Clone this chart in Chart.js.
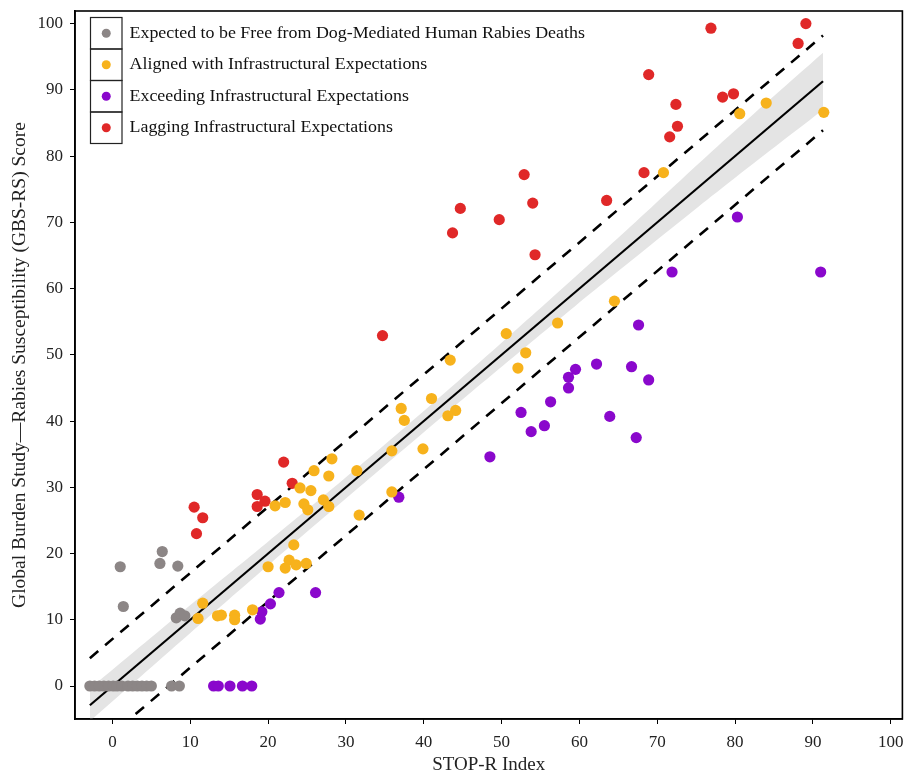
<!DOCTYPE html>
<html>
<head>
<meta charset="utf-8">
<script src="https://cdn.jsdelivr.net/npm/chart.js@4.4.1/dist/chart.umd.min.js"></script>
<style>
  html, body { margin: 0; padding: 0; background: #ffffff; }
  #wrap { width: 908px; height: 776px; }
</style>
</head>
<body>
<div id="wrap"><canvas id="c" width="908" height="776"></canvas></div>
<script>
// ---------------- DATA ----------------
const seriesNames = [
  "Expected to be Free from Dog-Mediated Human Rabies Deaths",
  "Aligned with Infrastructural Expectations",
  "Exceeding Infrastructural Expectations",
  "Lagging Infrastructural Expectations"
];

// Expected to be free (grey)
const freeX = [-2.9, -2.3, -1.7, -1.1, -0.5, 0.1, 0.6, 1.2, 2.0, 2.6, 3.2, 3.8, 4.4, 5.0, 7.6, 8.6,
               1.0, 1.4, 6.4, 6.1, 8.4, 8.2, 8.7, 9.3];
const freeY = [0, 0, 0, 0, 0, 0, 0, 0, 0, 0, 0, 0, 0, 0, 0, 0,
               18.0, 12.0, 20.3, 18.5, 18.1, 10.3, 11.0, 10.6];

// Aligned (yellow)
const alignedX = [11.6, 11.0, 14.0, 13.5, 15.7, 15.7, 18.0, 20.0, 23.3, 22.7, 22.2, 23.6, 24.9, 31.7,
                  37.1, 37.5, 39.9, 35.9, 28.2, 25.9, 27.8, 31.4, 24.1, 25.5, 22.2, 20.9, 24.6, 25.1,
                  27.1, 27.8, 35.9, 64.5, 57.2, 50.6, 53.1, 52.1, 43.4, 41.0, 44.1, 43.1, 70.8,
                  80.6, 84.0, 91.4];
const alignedY = [12.5, 10.2, 10.7, 10.6, 10.7, 10.0, 11.5, 18.0, 21.3, 19.0, 17.8, 18.3, 18.5, 25.8,
                  41.9, 40.1, 35.8, 35.5, 34.3, 32.5, 31.7, 32.5, 29.9, 29.5, 27.7, 27.2, 27.5, 26.6,
                  28.1, 27.1, 29.3, 58.1, 54.8, 53.2, 50.3, 48.0, 49.2, 43.4, 41.6, 40.8, 77.5,
                  86.4, 88.0, 86.6];

// Exceeding (purple)
const exceedX = [13.0, 13.6, 15.1, 16.7, 17.9, 19.0, 19.2, 20.3, 21.4, 26.1, 36.8,
                 48.5, 52.5, 53.8, 55.5, 56.3, 58.6, 58.6, 59.5, 62.2, 63.9, 66.7, 67.6, 68.9, 67.3,
                 80.3, 71.9, 91.0];
const exceedY = [0, 0, 0, 0, 0, 10.1, 11.2, 12.4, 14.1, 14.1, 28.5,
                 34.6, 41.3, 38.4, 39.3, 42.9, 45.0, 46.6, 47.8, 48.6, 40.7, 48.2, 54.5, 46.2, 37.5,
                 70.8, 62.5, 62.5];

// Lagging (red)
const laggingX = [10.8, 11.6, 10.5, 22.0, 23.1, 18.6, 19.6, 18.6, 34.7, 43.7, 44.7, 49.7, 52.9, 54.0,
                  54.3, 63.5, 68.3, 76.9, 89.1, 88.1, 68.9, 78.4, 79.8, 72.4, 72.6, 71.6];
const laggingY = [23.0, 25.4, 27.0, 33.8, 30.6, 28.9, 27.9, 27.1, 52.9, 68.4, 72.1, 70.4, 77.2, 72.9,
                  65.1, 73.3, 77.5, 99.3, 100.0, 97.0, 92.3, 88.9, 89.4, 87.8, 84.5, 82.9];

// Fitted line, prediction limits (dashed) and confidence band
const fitX = [-2.9, 91.3];
const fitY = [-2.9, 91.3];
const predUpperY = [4.2, 98.2];
const predLowerY = [-10.1, 83.9];
const bandX = [-2.9, 9.9, 19.8, 29.7, 39.6, 49.5, 59.4, 69.2, 79.1, 91.3];
const bandLow = [-5.3, 7.9, 18.0, 28.0, 37.9, 47.7, 57.3, 66.6, 75.9, 87.0];
const bandHigh = [-0.4, 12.1, 21.6, 31.2, 41.1, 51.3, 61.7, 72.2, 82.9, 95.6];

// Axis ticks
const xTicks = [0, 10, 20, 30, 40, 50, 60, 70, 80, 90, 100];
const yTicks = [0, 10, 20, 30, 40, 50, 60, 70, 80, 90, 100];

const colors = ["#8c8686", "#f7b21c", "#8a08cc", "#e02828"];

// ---------------- BUILD ----------------
const zip = (xs, ys) => xs.map((x, i) => ({ x: x, y: ys[i] }));
const FONT = "'Liberation Serif', 'Times New Roman', serif";

function scatterSet(name, xs, ys, col) {
  return {
    type: 'scatter', label: name, data: zip(xs, ys),
    backgroundColor: col, borderColor: col, borderWidth: 0,
    pointRadius: 5.6, pointHoverRadius: 5.6, order: 0
  };
}

const datasets = [
  { type: 'line', label: 'bandHigh', data: zip(bandX, bandHigh), borderWidth: 0, pointRadius: 0,
    backgroundColor: 'rgba(0,0,0,0)', borderColor: 'rgba(0,0,0,0)', fill: false, tension: 0.4, order: 5 },
  { type: 'line', label: 'bandLow', data: zip(bandX, bandLow), borderWidth: 0, pointRadius: 0,
    backgroundColor: '#e4e4e4', borderColor: 'rgba(0,0,0,0)', fill: '-1', tension: 0.4, order: 4 },
  { type: 'line', label: 'fit', data: zip(fitX, fitY), borderColor: '#000', borderWidth: 2.2,
    pointRadius: 0, fill: false, order: 2 },
  { type: 'line', label: 'upper', data: zip(fitX, predUpperY), borderColor: '#000', borderWidth: 2.6,
    borderDash: [11, 9], pointRadius: 0, fill: false, order: 2 },
  { type: 'line', label: 'lower', data: zip(fitX, predLowerY), borderColor: '#000', borderWidth: 2.6,
    borderDash: [11, 9], pointRadius: 0, fill: false, order: 2 },
  scatterSet(seriesNames[0], freeX, freeY, colors[0]),
  scatterSet(seriesNames[1], alignedX, alignedY, colors[1]),
  scatterSet(seriesNames[2], exceedX, exceedY, colors[2]),
  scatterSet(seriesNames[3], laggingX, laggingY, colors[3])
];

const framePlugin = {
  id: 'frame',
  afterDraw(chart) {
    const { ctx, chartArea: a } = chart;
    ctx.save();
    ctx.strokeStyle = '#000';
    ctx.lineWidth = 1.6;
    ctx.strokeRect(a.left, a.top, a.right - a.left, a.bottom - a.top);
    // legend
    const bx = 90.5, by = 17.5, bw = 31.5, ch = 31.5;
    ctx.lineWidth = 1.2;
    ctx.strokeStyle = '#222';
    for (let i = 0; i < seriesNames.length; i++) {
      const y0 = by + i * ch;
      ctx.strokeRect(bx, y0, bw, ch);
      ctx.fillStyle = colors[i];
      ctx.beginPath();
      ctx.arc(bx + bw / 2, y0 + ch / 2, 4.5, 0, Math.PI * 2);
      ctx.fill();
      ctx.save();
      ctx.translate(bx + bw + 7.5, y0 + ch / 2);
      ctx.scale(1.085, 1);
      ctx.fillStyle = '#111';
      ctx.font = "16.5px " + FONT;
      ctx.textBaseline = 'middle';
      ctx.textAlign = 'left';
      ctx.fillText(seriesNames[i], 0, 0);
      ctx.restore();
    }
    ctx.restore();
  }
};

new Chart(document.getElementById('c'), {
  data: { datasets: datasets },
  options: {
    responsive: false,
    animation: false,
    devicePixelRatio: 1,
    layout: { padding: { top: 11, right: 2, left: 0, bottom: 0 } },
    plugins: { legend: { display: false }, tooltip: { enabled: false } },
    scales: {
      x: {
        type: 'linear', min: -4.81, max: 101.5,
        afterBuildTicks: s => { s.ticks = xTicks.map(v => ({ value: v })); },
        afterFit: s => { s.height = 57; s.paddingLeft = 0; s.paddingRight = 0; },
        grid: { display: true, drawOnChartArea: false, drawTicks: true, tickLength: 5, color: '#000', lineWidth: 1 },
        border: { display: true, color: '#000', width: 1.6 },
        ticks: { color: '#222', font: { family: FONT, size: 17 }, padding: 8, maxRotation: 0, autoSkip: false },
        title: { display: true, text: 'STOP-R Index', color: '#222', font: { family: FONT, size: 19 }, padding: { top: 0, bottom: 0 } }
      },
      y: {
        type: 'linear', min: -4.98, max: 101.9,
        afterBuildTicks: s => { s.ticks = yTicks.map(v => ({ value: v })); },
        afterFit: s => { s.width = 75; s.paddingTop = 0; s.paddingBottom = 0; },
        grid: { display: true, drawOnChartArea: false, drawTicks: true, tickLength: 5, color: '#000', lineWidth: 1 },
        border: { display: true, color: '#000', width: 1.6 },
        ticks: { color: '#222', font: { family: FONT, size: 17 }, padding: 7, autoSkip: false },
        title: { display: true, text: 'Global Burden Study\u2014Rabies Susceptibility (GBS-RS) Score', color: '#222',
                 font: { family: FONT, size: 19.5 }, padding: { top: 8, bottom: 0 } }
      }
    }
  },
  plugins: [framePlugin]
});
</script>
</body>
</html>
